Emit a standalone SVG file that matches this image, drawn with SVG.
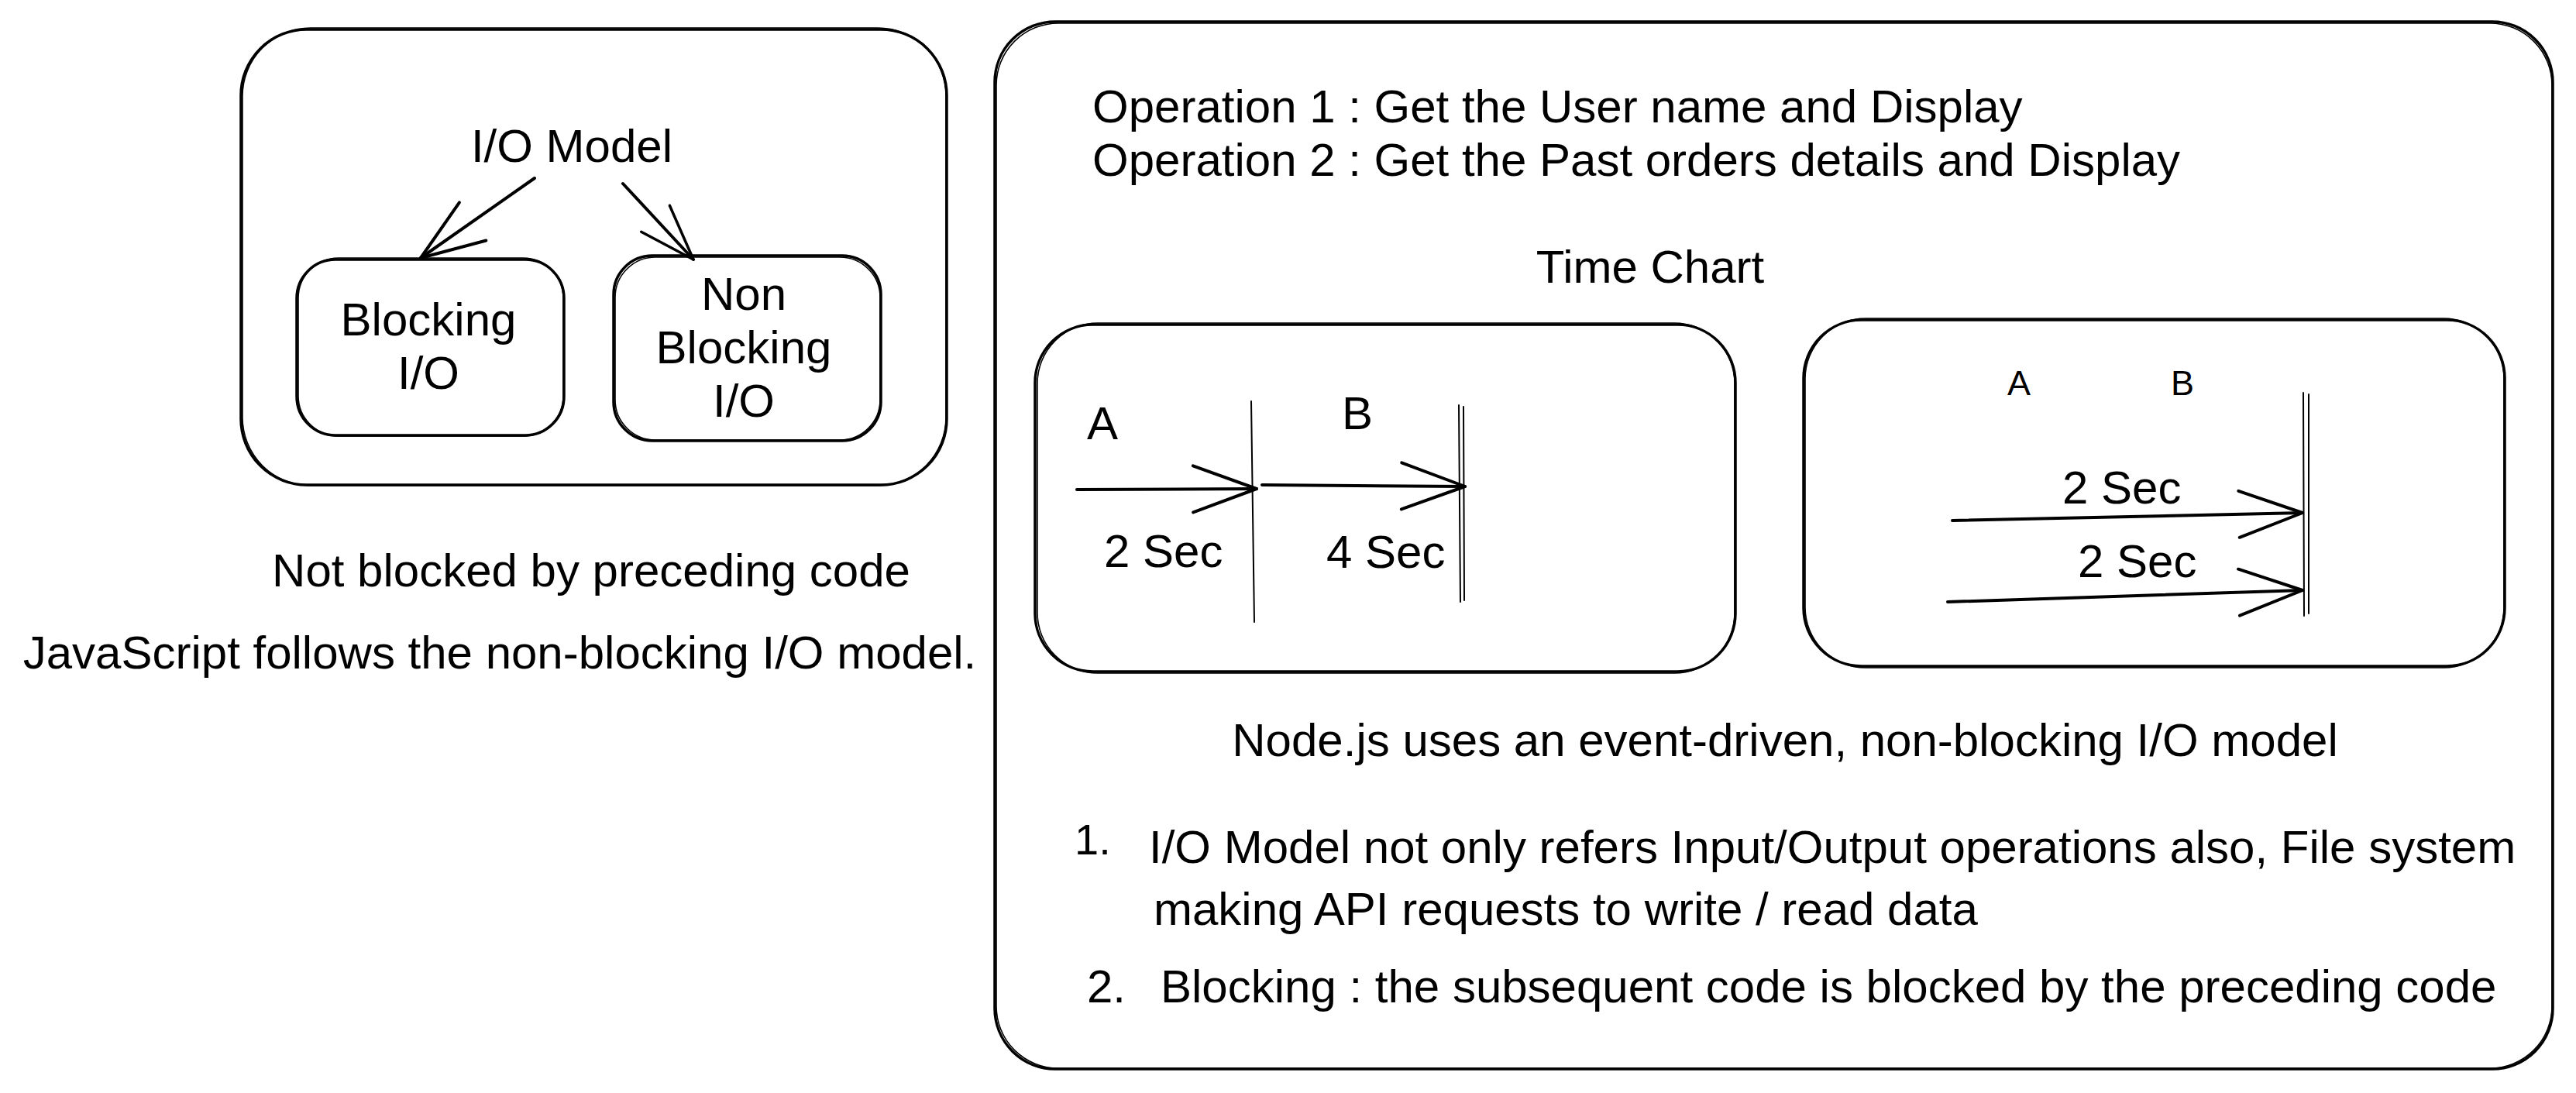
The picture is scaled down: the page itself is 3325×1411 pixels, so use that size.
<svg xmlns="http://www.w3.org/2000/svg" width="3325" height="1411" viewBox="0 0 3325 1411">
<style>
.t{font-family:"Liberation Sans",Arial,Helvetica,sans-serif;font-size:60px;fill:#000}
.m{text-anchor:middle}
.b{fill:none;stroke:#000;stroke-width:3.5;stroke-linecap:round;stroke-linejoin:round}
.b2{fill:none;stroke:#000;stroke-width:1.6;stroke-linecap:round}
.c{fill:none;stroke:#000;stroke-width:4;stroke-linecap:round}
.c2{fill:none;stroke:#000;stroke-width:2;stroke-linecap:round}
</style>
<defs>
<marker id="ah" markerUnits="userSpaceOnUse" viewBox="-95 -40 105 80" markerWidth="105" markerHeight="80" refX="0" refY="0" orient="auto" overflow="visible">
<path d="M-82,-30 L0,0 L-82,30" fill="none" stroke="#000" stroke-width="4" stroke-linecap="round" stroke-linejoin="round"/>
</marker>
<marker id="ahs" markerUnits="userSpaceOnUse" viewBox="-80 -30 90 60" markerWidth="90" markerHeight="60" refX="0" refY="0" orient="auto" overflow="visible">
<path d="M-72,-25 L0,0 L-72,25" fill="none" stroke="#000" stroke-width="3.5" stroke-linecap="round" stroke-linejoin="round"/>
</marker>
</defs>
<rect width="3325" height="1411" fill="#fff"/>

<g id="io-model-panel">
<rect class="b" x="311" y="38" width="911" height="588" rx="85"/>
<rect class="b2" x="313" y="36" width="908" height="591" rx="88"/>
<text class="t m" x="738" y="209">I/O Model</text>
</g>

<g id="blocking-io">
<rect class="b" x="383" y="335" width="345" height="227" rx="50"/>
<rect class="b2" x="385" y="333" width="342" height="230" rx="52"/>
<text class="t m" x="553" y="433">Blocking</text>
<text class="t m" x="553" y="502">I/O</text>
</g>

<g id="non-blocking-io">
<rect class="b" x="792" y="330" width="345" height="239" rx="50"/>
<rect class="b2" x="794" y="332" width="342" height="236" rx="52"/>
<text class="t m" x="960" y="400">Non</text>
<text class="t m" x="960" y="469">Blocking</text>
<text class="t m" x="960" y="538">I/O</text>
</g>

<g id="left-notes">
<text class="t m" x="763" y="757">Not blocked by preceding code</text>
<text class="t m" x="645" y="863">JavaScript follows the non-blocking I/O model.</text>
</g>

<g id="main-panel">
<rect class="b" x="1284" y="28" width="2011" height="1352" rx="78"/>
<rect class="b2" x="1286" y="30" width="2008" height="1349" rx="80"/>
<text class="t" x="1410" y="158">Operation 1 : Get the User name and Display</text>
<text class="t" x="1410" y="227">Operation 2 : Get the Past orders details and Display</text>
<text class="t m" x="2130" y="365">Time Chart</text>
<text class="t m" x="2304" y="976">Node.js uses an event-driven, non-blocking I/O model</text>
<text class="t" x="1387" y="1103" style="font-size:56px">1.</text>
<text class="t" x="1483" y="1114">I/O Model not only refers Input/Output operations also, File system</text>
<text class="t" x="1489" y="1194">making API requests to write / read data</text>
<text class="t" x="1403" y="1294">2.</text>
<text class="t" x="1498" y="1294">Blocking : the subsequent code is blocked by the preceding code</text>
</g>

<g id="chart-sequential">
<rect class="b" x="1336" y="419" width="904" height="448" rx="75"/>
<rect class="b2" x="1339" y="417" width="900" height="452" rx="78"/>
<text class="t" x="1403" y="567">A</text>
<text class="t" x="1732" y="554">B</text>
<text class="t" x="1425" y="732">2 Sec</text>
<text class="t" x="1712" y="733">4 Sec</text>
</g>

<g id="chart-parallel">
<rect class="b" x="2328" y="413" width="905" height="447" rx="75"/>
<rect class="b2" x="2330" y="411" width="902" height="451" rx="78"/>
<text class="t" x="2591" y="510" style="font-size:45px">A</text>
<text class="t" x="2802" y="510" style="font-size:45px">B</text>
<text class="t" x="2662" y="650">2 Sec</text>
<text class="t" x="2682" y="745">2 Sec</text>
</g>

<g id="connectors">
<path class="c" d="M690,230 L543,333" marker-end="url(#ah)"/>
<path class="c" d="M804,237 L895,335" marker-end="url(#ahs)"/>
<path class="c2" d="M1615,518 L1619,803"/>
<path class="c2" d="M1883,523 L1885,777"/>
<path class="c2" d="M1889,525 L1890,775"/>
<path class="c" d="M1390,632 L1622,631" marker-end="url(#ah)"/>
<path class="c" d="M1629,626 L1891,628" marker-end="url(#ah)"/>
<path class="c2" d="M2973,507 L2974,795"/>
<path class="c2" d="M2980,509 L2980,792"/>
<path class="c" d="M2520,672 L2972,662" marker-end="url(#ah)"/>
<path class="c" d="M2514,777 L2972,762" marker-end="url(#ah)"/>
</g>
</svg>
